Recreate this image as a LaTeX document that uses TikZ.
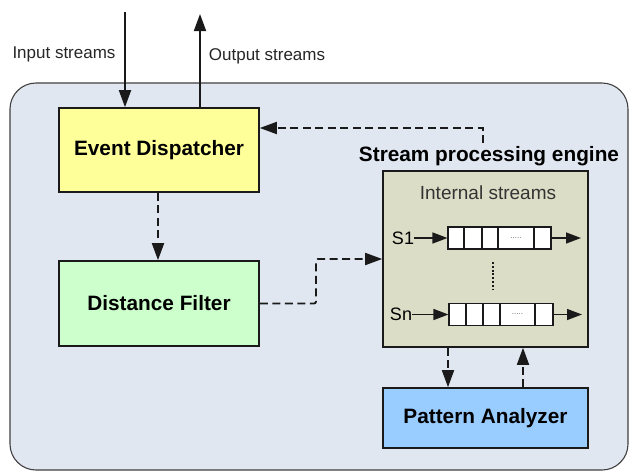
\documentclass[tikz,border=0pt]{standalone}
\usepackage{fontspec}
\setmainfont{Liberation Sans}
\usetikzlibrary{arrows.meta,calc}
\definecolor{bgc}{HTML}{E1E7F1}
\definecolor{edc}{HTML}{FFFF99}
\definecolor{dfc}{HTML}{CCFFCC}
\definecolor{intc}{HTML}{DCDDC6}
\definecolor{pac}{HTML}{99CCFF}
\definecolor{linec}{HTML}{1A1A1A}
\tikzset{
  box/.style={draw=linec,line width=1.6pt,minimum width=200pt,inner sep=0pt,font=\fontsize{20.8}{24}\selectfont\bfseries},
  tip/.style={-{Triangle[length=17pt,width=12pt]}},
  smalltip/.style={-{Triangle[length=15pt,width=11pt]}},
  conn/.style={line width=1.8pt,linec},
  dconn/.style={conn,dash pattern=on 8pt off 4.5pt},
  lbl/.style={font=\fontsize{17}{20}\selectfont,inner sep=0pt},
  qcell/.style={draw=linec,line width=1.1pt,fill=white,minimum height=22pt,inner sep=0pt}
}
\begin{document}
\begin{tikzpicture}[x=1pt,y=-1pt]
\useasboundingbox (0,0) rectangle (629,472);
\fill[white] (0,0) rectangle (629,472);
\draw[fill=bgc,draw=black!75,line width=1.1pt,rounded corners=26pt] (10,83) rectangle (628,470);
% main boxes
\node[box,fill=edc,minimum height=84pt] (ed) at (159,150) {Event Dispatcher};
\node[box,fill=dfc,minimum height=85pt] (df) at (159,303.5) {Distance Filter};
\node[box,fill=intc,minimum width=205pt,minimum height=176pt] (int) at (485.5,259) {};
\node[box,fill=pac,minimum width=205pt,minimum height=60pt] (pa) at (485.5,418) {Pattern Analyzer};
\node[font=\fontsize{20.8}{24}\selectfont\bfseries,inner sep=0pt] (spe) at (489,156) {Stream processing engine};
\node[lbl,font=\fontsize{19}{22}\selectfont,text=black!80] (ist) at (488,193) {Internal streams};
% input / output
\coordinate (inp) at (125,12);
\coordinate (outp) at (200,14);
\draw[conn,tip] (inp) -- (ed.north -| inp);
\draw[conn,tip] (ed.north -| outp) -- (outp);
\node[lbl,text=black!85] (intext) at (64,54) {Input streams};
\node[lbl,text=black!85] (outtext) at (267,56) {Output streams};
% queues
\node[qcell,minimum width=103pt] (q1) at (499.5,238) {};
\node[qcell,minimum width=104pt] (qn) at (501,314.5) {};
\foreach \xa in {464,482,498,534} \draw[linec,line width=1.1pt] (\xa,227) -- (\xa,249);
\foreach \xa in {466,483,500,535} \draw[linec,line width=1.1pt] (\xa,303.5) -- (\xa,325.5);
\node[font=\fontsize{8}{8}\selectfont,text=black!60,inner sep=0pt] (d1) at (516,238) {.....};
\node[font=\fontsize{8}{8}\selectfont,text=black!60,inner sep=0pt] (d2) at (517.5,314.5) {.....};
\node[lbl,font=\fontsize{18}{20}\selectfont] (s1) at (403,238) {S1};
\node[lbl,font=\fontsize{18}{20}\selectfont] (sn) at (401,314) {Sn};
\coordinate (o1) at (581,238);
\coordinate (on) at (582,314.5);
\draw[linec,line width=1.4pt,smalltip] (s1.east |- q1.west) -- (q1.west);
\draw[linec,line width=1.4pt,smalltip] (sn.east |- qn.west) -- (qn.west);
\draw[linec,line width=1.4pt,smalltip] (q1.east) -- (o1);
\draw[linec,line width=1.4pt,smalltip] (qn.east) -- (on);
\draw[linec,line width=2pt,dash pattern=on 2pt off 1.8pt] (493,262) -- (493,290);
% dashed connectors
\coordinate (cd) at (158,0);
\draw[dconn,tip] (ed.south -| cd) -- (df.north -| cd);
\coordinate (bend) at (316,259);
\draw[dconn,tip,rounded corners=2pt] (df.east) -| (bend) -- (int.west |- bend);
\coordinate (fb) at (483,128);
\draw[dconn,tip] (fb |- spe.north) ++(0,-3) -- (fb) -- (ed.east |- fb);
\coordinate (ca) at (448,0);
\coordinate (cb) at (523,0);
\draw[dconn,tip] (int.south -| ca) -- (pa.north -| ca);
\draw[dconn,tip] (pa.north -| cb) -- (int.south -| cb);
\end{tikzpicture}
\end{document}
